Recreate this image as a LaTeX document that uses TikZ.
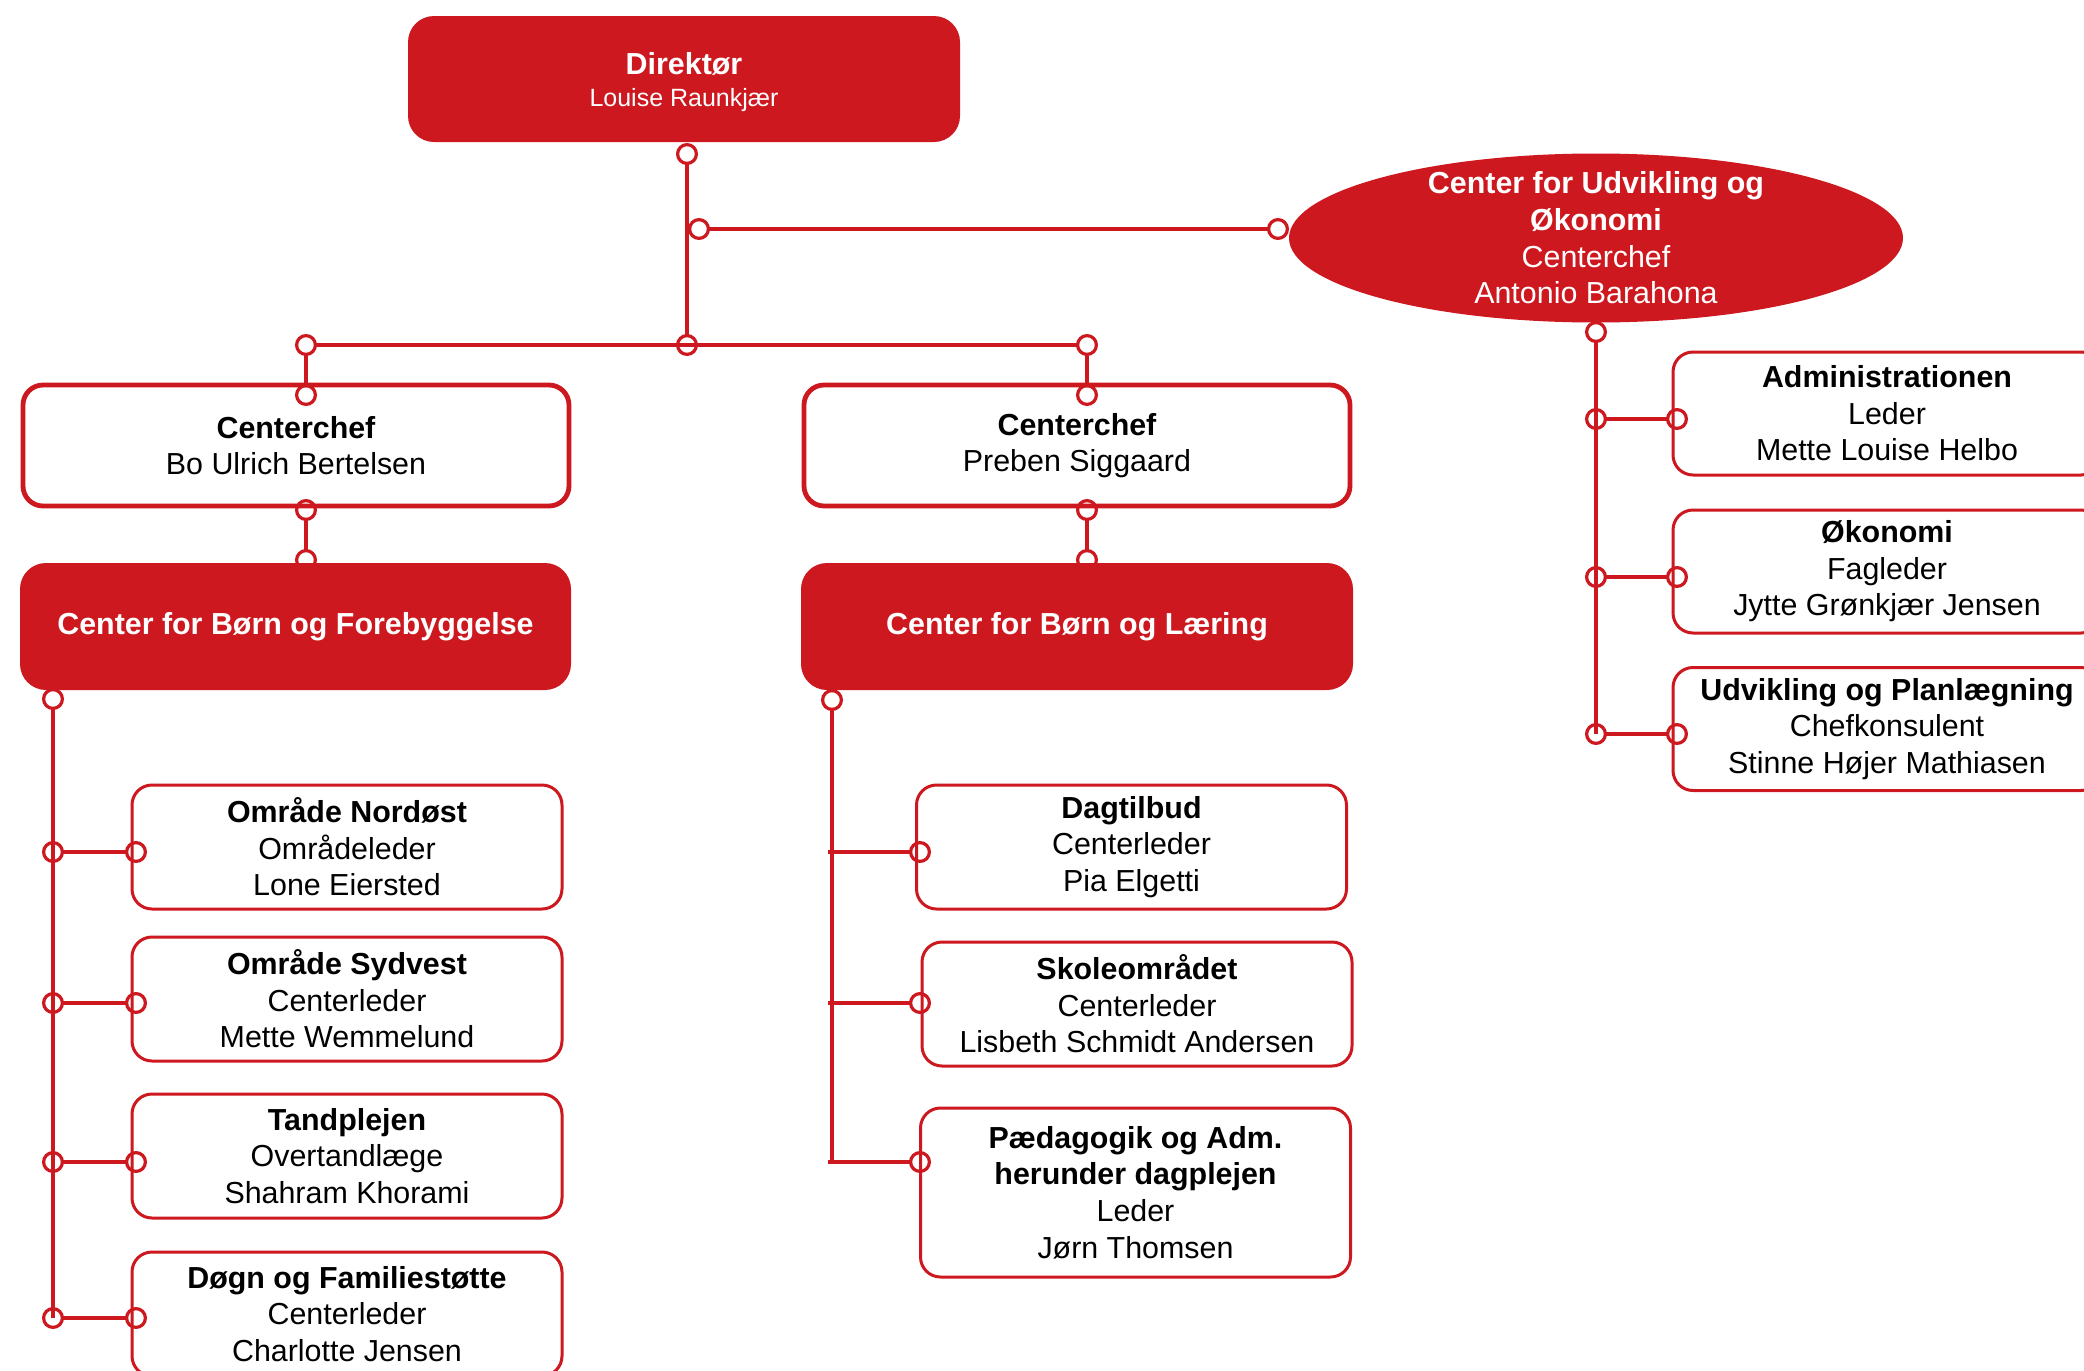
\documentclass[tikz,border=0pt]{standalone}
\usepackage{fontspec}
\setmainfont{Liberation Sans}
\definecolor{orgred}{RGB}{204,24,30}

\begin{document}
\begin{tikzpicture}[x=0.5pt,y=-0.5pt,
    every node/.style={font=\fontsize{15.2}{18.3}\selectfont, align=center, inner sep=0pt},
    redbox/.style={fill=orgred, text=white, rounded corners=13pt},
    chefbox/.style={draw=orgred, line width=2.4pt, fill=white, rounded corners=10pt,
        minimum width=273pt, minimum height=60.5pt},
    unitbox/.style={draw=orgred, line width=1.5pt, fill=white, rounded corners=10pt,
        minimum width=215pt, minimum height=62pt},
    link/.style={orgred, line width=1.8pt},
    both/.style={shorten <=4.7pt, shorten >=4.7pt},
    ring/.style={orgred, line width=1.6pt}]
\useasboundingbox (0,0) rectangle (2084,1371);

\node[redbox, minimum width=276pt, minimum height=63pt] (dir) at (684,79) {};
\node[text=white] (dirtxt) at (684,82)
    {\textbf{Direktør}\\[-2.6pt]{\fontsize{12.5}{15}\selectfont Louise Raunkjær}};
\coordinate (udvC) at (1596,238);
\fill[orgred] (udvC) ellipse [x radius=307, y radius=84.5];
\node[text=white] (udv) at (udvC)
    {\textbf{Center for Udvikling og}\\\textbf{Økonomi}\\Centerchef\\Antonio Barahona};

\node[chefbox] (chefA) at (296,445.5) {\textbf{Centerchef}\\Bo Ulrich Bertelsen};
\node[chefbox] (chefB) at (1077,445.5) {\textbf{Centerchef}\\Preben Siggaard};
\node[redbox, minimum width=275.5pt, minimum height=63.5pt] (cbf) at (295.5,626.5)
    {\textbf{Center for Børn og Forebyggelse}};
\node[redbox, minimum width=276pt, minimum height=63.5pt] (cbl) at (1077,626.5)
    {\textbf{Center for Børn og Læring}};

\foreach \y/\nm/\title/\role/\who in {
    847/nord/Område Nordøst/Områdeleder/Lone Eiersted,
    999/syd/Område Sydvest/Centerleder/Mette Wemmelund,
    1156/tand/Tandplejen/Overtandlæge/Shahram Khorami,
    1314/dogn/Døgn og Familiestøtte/Centerleder/Charlotte Jensen} {
    \node[unitbox] (\nm) at (347,\y) {\textbf{\title}\\\role\\\who};
}
\node[unitbox] (dagt) at (1131.5,847) {\textbf{Dagtilbud}\\Centerleder\\Pia Elgetti};
\node[unitbox] (skole) at (1137,1004) {\textbf{Skoleområdet}\\Centerleder\\Lisbeth Schmidt Andersen};
\node[unitbox, minimum height=84.5pt] (paed) at (1135.5,1192.5)
    {\textbf{Pædagogik og Adm.}\\\textbf{herunder dagplejen}\\Leder\\Jørn Thomsen};
\foreach \y/\nm/\title/\role/\who in {
    413.5/adm/Administrationen/Leder/Mette Louise Helbo,
    571.5/okon/Økonomi/Fagleder/Jytte Grønkjær Jensen,
    729/plan/Udvikling og Planlægning/Chefkonsulent/Stinne Højer Mathiasen} {
    \node[unitbox, minimum width=214pt, minimum height=61.5pt] (\nm) at (1887,\y)
        {\textbf{\title}\\\role\\\who};
}

\coordinate (r0) at (687,154);
\coordinate (r1) at (699,229);
\coordinate (r2) at (1278,229);
\coordinate (r3) at (687,345);
\coordinate (r4) at (306,345);
\coordinate (r5) at (1087,345);
\coordinate (r6) at (306,395);
\coordinate (r7) at (1087,395);
\coordinate (r8) at (306,510);
\coordinate (r9) at (1087,510);
\coordinate (r10) at (306,560);
\coordinate (r11) at (1087,560);
\coordinate (lt) at (53,699);
\coordinate (mt) at (832,700);
\coordinate (rt) at (1596,332);
\foreach \y [count=\i] in {852,1003,1162,1318} {
    \coordinate (lj\i) at (53,\y);
    \coordinate (lk\i) at (136,\y);
}
\foreach \y [count=\i] in {852,1003,1162} {
    \coordinate (mj\i) at (828,\y);
    \coordinate (mk\i) at (920,\y);
}
\coordinate (mb) at (832,1162);
\foreach \y [count=\i] in {419,577,734} {
    \coordinate (rj\i) at (1596,\y);
    \coordinate (rk\i) at (1677,\y);
}

\draw[link, both] (r0) -- (r3);
\draw[link, both] (r1) -- (r2);
\draw[link, both] (r4) -- (r5);
\draw[link, both] (r4) -- (r6);
\draw[link, both] (r5) -- (r7);
\draw[link, both] (r8) -- (r10);
\draw[link, both] (r9) -- (r11);
\draw[link, shorten <=4.7pt] (lt) -- (lj4);
\draw[link, shorten <=4.7pt] (mt) -- (mb);
\draw[link, shorten <=4.7pt] (rt) -- (rj3);
\foreach \i in {1,...,4}
    \draw[link, both] (lj\i) -- (lk\i);
\foreach \i in {1,2,3} {
    \draw[link, shorten >=4.7pt] (mj\i) -- (mk\i);
    \draw[link, both] (rj\i) -- (rk\i);
}

\foreach \r in {r0,r1,r2,r3,r4,r5,r6,r7,r8,r9,r10,r11,lt,mt,rt,
    lj1,lj2,lj3,lj4,lk1,lk2,lk3,lk4,mk1,mk2,mk3,rj1,rj2,rj3,rk1,rk2,rk3}
    \draw[ring] (\r) circle [radius=4.7pt];
\end{tikzpicture}
\end{document}
